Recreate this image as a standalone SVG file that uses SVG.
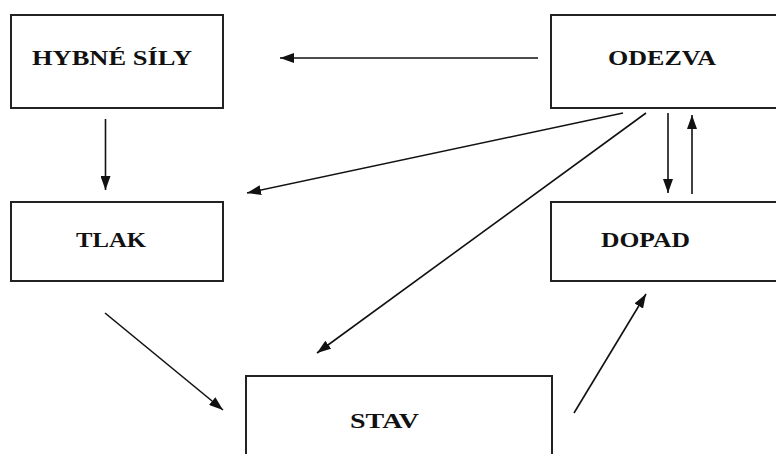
<svg xmlns="http://www.w3.org/2000/svg" width="776" height="454" viewBox="0 0 776 454">
<defs>
<marker id="ah" markerWidth="14" markerHeight="10" refX="14" refY="5" orient="auto" markerUnits="userSpaceOnUse">
<path d="M0,0 L14,5 L0,10 Z" fill="#111"/>
</marker>
<style>
.box{fill:#fff;stroke:#222;stroke-width:2}
.lbl{font-family:"Liberation Serif","Times New Roman",serif;font-weight:bold;font-size:20px;fill:#111}
.con line{stroke:#111;stroke-width:1.6;marker-end:url(#ah)}
</style>
</defs>
<rect width="776" height="454" fill="#fff"/>
<g id="hybne-sily">
<rect class="box" x="11" y="15" width="212" height="93"/>
<text class="lbl" x="32" y="65" textLength="160" lengthAdjust="spacingAndGlyphs">HYBNÉ SÍLY</text>
</g>
<g id="odezva">
<rect class="box" x="551" y="15" width="240" height="93"/>
<text class="lbl" x="608" y="65" textLength="108" lengthAdjust="spacingAndGlyphs">ODEZVA</text>
</g>
<g id="tlak">
<rect class="box" x="11" y="202" width="212" height="79"/>
<text class="lbl" x="76" y="247" textLength="70" lengthAdjust="spacingAndGlyphs">TLAK</text>
</g>
<g id="dopad">
<rect class="box" x="551" y="202" width="240" height="79"/>
<text class="lbl" x="601" y="247" textLength="89" lengthAdjust="spacingAndGlyphs">DOPAD</text>
</g>
<g id="stav">
<rect class="box" x="246" y="376" width="306" height="100"/>
<text class="lbl" x="350" y="428" textLength="69" lengthAdjust="spacingAndGlyphs">STAV</text>
</g>
<g id="connectors" class="con">
<line x1="538" y1="58" x2="280" y2="58"/>
<line x1="105.5" y1="119" x2="105.5" y2="190"/>
<line x1="668" y1="113" x2="668" y2="193"/>
<line x1="692" y1="194" x2="692" y2="115"/>
<line x1="623" y1="113" x2="247" y2="193"/>
<line x1="646" y1="113" x2="317" y2="353"/>
<line x1="105" y1="313" x2="223" y2="410"/>
<line x1="574" y1="413" x2="646" y2="294"/>
</g>
</svg>
